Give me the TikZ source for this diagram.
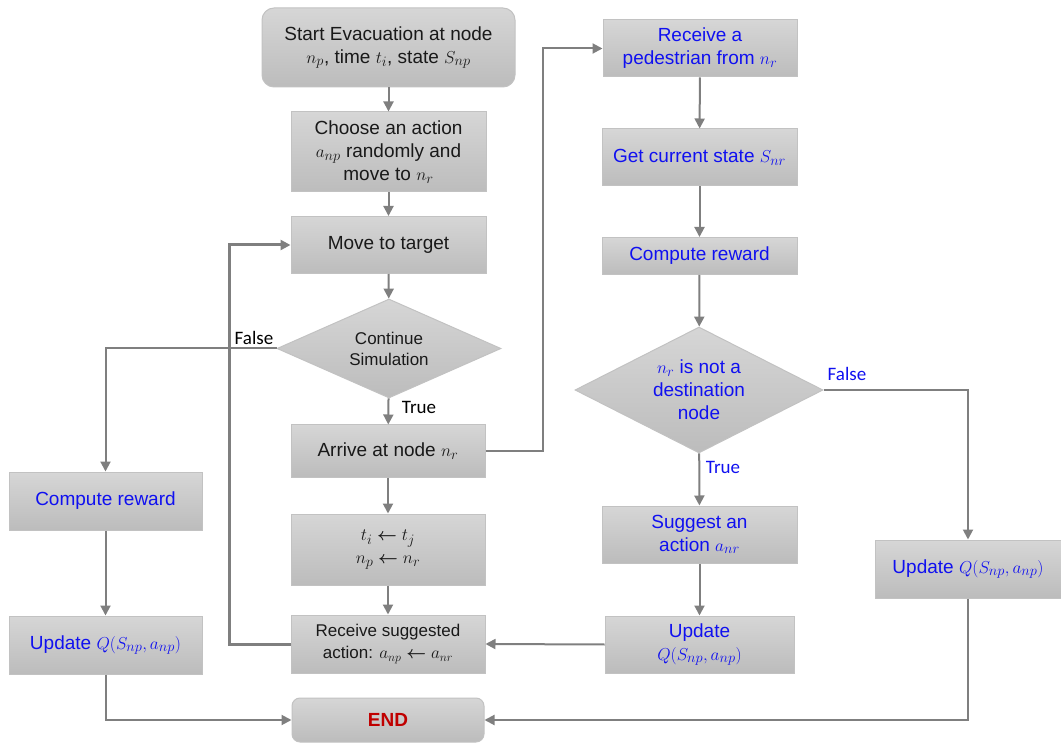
\documentclass[tikz,border=0pt]{standalone}
\usepackage{amsmath}
\usepackage{fontspec}
\setmainfont{Liberation Sans}
\newfontfamily\lblfont{Carlito}
\usetikzlibrary{shapes.geometric,arrows.meta}
\definecolor{boxtop}{HTML}{D6D6D6}
\definecolor{boxbot}{HTML}{BCBCBC}
\definecolor{boxline}{HTML}{C2C2C2}
\definecolor{conn}{HTML}{7F7F7F}
\definecolor{bluetxt}{HTML}{1010F0}
\definecolor{endred}{HTML}{C00000}
\newcommand{\la}{\mathrel{\boldsymbol{\leftarrow}}}
\tikzset{
  fbox/.style={rectangle, draw=boxline, line width=1pt, top color=boxtop, bottom color=boxbot,
    align=center, inner sep=2pt, font=\fontsize{19}{23}\selectfont, text=black!90},
  rbox/.style={fbox, rounded corners=12pt},
  dia/.style={diamond, draw=boxline, line width=1pt, top color=boxtop, bottom color=boxbot,
    align=center, inner sep=0pt, font=\fontsize{19}{23}\selectfont, text=black!90},
  blue/.style={text=bluetxt},
  conn/.style={draw=conn, line width=2pt},
  arr/.style={conn, -{Triangle[length=10pt,width=10pt]}},
  lbl/.style={font=\lblfont\fontsize{19}{22}\selectfont, inner sep=0pt}
}
\begin{document}
\begin{tikzpicture}[x=1pt,y=-1pt]
\useasboundingbox (0,0) rectangle (1061,743);
% centre column
\node[rbox, minimum width=253, minimum height=79] (start) at (388.5,47.5)
  {Start Evacuation at node\\$n_p$, time $t_i$, state $S_{np}$};
\node[fbox, minimum width=195, minimum height=80] (choose) at (388.5,152)
  {Choose an action\\$a_{np}$ randomly and\\move to $n_r$};
\node[fbox, minimum width=195, minimum height=57] (move) at (388.5,245)
  {Move to target};
\node[dia, aspect=2.26, minimum width=224, minimum height=99, font=\fontsize{17}{21}\selectfont] (cont) at (389,348.5)
  {Continue\\Simulation};
\node[fbox, minimum width=194, minimum height=52] (arrive) at (388,451)
  {Arrive at node $n_r$};
\node[fbox, minimum width=194, minimum height=71] (tupd) at (388,549.5)
  {$t_i \la t_j$\\$n_p \la n_r$};
\node[fbox, minimum width=194, minimum height=58, font=\fontsize{17}{22}\selectfont] (recv) at (388,644)
  {Receive suggested\\action: $a_{np} \la a_{nr}$};
\node[rbox, rounded corners=8pt, minimum width=192, minimum height=44, text=endred, font=\fontsize{19}{23}\selectfont\bfseries] (endn) at (388,720)
  {END};
% left column
\node[fbox, blue, minimum width=193, minimum height=58] (crl) at (105.5,501)
  {Compute reward};
\node[fbox, blue, minimum width=193, minimum height=58] (upl) at (105.5,645)
  {Update $Q(S_{np}, a_{np})$};
% right column
\node[fbox, blue, minimum width=194, minimum height=57] (recp) at (700,48.5)
  {Receive a\\pedestrian from $n_r$};
\node[fbox, blue, minimum width=195, minimum height=57] (getst) at (699.5,157.5)
  {Get current state $S_{nr}$};
\node[fbox, blue, minimum width=195, minimum height=37] (crr) at (699.5,256)
  {Compute reward};
\node[dia, blue, aspect=1.97, minimum width=248, minimum height=126] (dest) at (699,390)
  {$n_r$ is not a\\destination\\node};
\node[fbox, blue, minimum width=195, minimum height=57] (sugg) at (699.5,534.5)
  {Suggest an\\action $a_{nr}$};
\node[fbox, blue, minimum width=189, minimum height=57] (upm) at (699.5,644.5)
  {Update\\$Q(S_{np}, a_{np})$};
\node[fbox, blue, minimum width=186, minimum height=58] (upr) at (968,569)
  {Update $Q(S_{np}, a_{np})$};
% corner coordinates
\coordinate (kfb) at (229,644);
\coordinate (kar) at (543,451);
% connectors
\draw[arr] (start) -- (choose);
\draw[arr] (choose) -- (move);
\draw[arr] (move) -- (cont);
\draw[arr] (cont) -- (arrive);
\draw[arr] (arrive) -- (tupd);
\draw[arr] (tupd) -- (recv);
\draw[conn, line width=3pt, -{Triangle[length=10pt,width=10pt]}] (recv.west) -- (kfb) |- (move.west);
\draw[arr] (cont.west) -| (crl.north);
\draw[arr] (crl) -- (upl);
\draw[arr] (upl.south) |- (endn.west);
\draw[arr] (arrive.east) -- (kar) |- (recp.west);
\draw[arr] (recp) -- (getst);
\draw[arr] (getst) -- (crr);
\draw[arr] (crr) -- (dest);
\draw[arr] (dest) -- (sugg);
\draw[arr] (sugg) -- (upm);
\draw[arr] (upm.west) -- (recv.east);
\draw[arr] (dest.east) -| (upr.north);
\draw[arr] (upr.south) |- (endn.east);
% labels
\node[lbl] (lt1) at (419,407) {True};
\node[lbl] (lf1) at (254,338) {False};
\node[lbl, text=bluetxt] (lt2) at (723,467) {True};
\node[lbl, text=bluetxt] (lf2) at (847,374) {False};
\end{tikzpicture}
\end{document}
